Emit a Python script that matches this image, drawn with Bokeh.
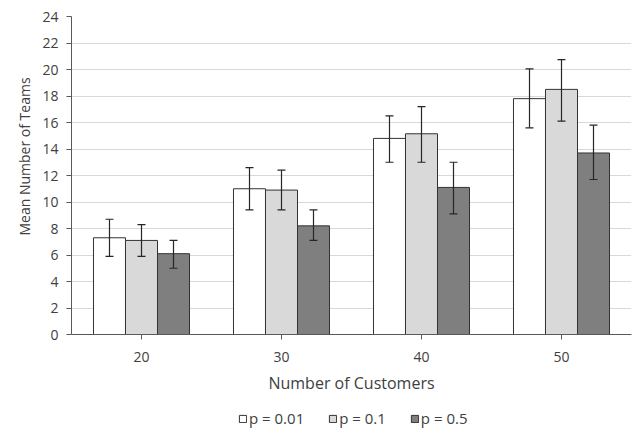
from bokeh.plotting import figure
from bokeh.layouts import column
from bokeh.models import (ColumnDataSource, FactorRange, Range1d, FixedTicker, Whisker,
                          TeeHead, Legend, LegendItem, Title)
from bokeh.transform import dodge
from bokeh.embed import file_html
from bokeh.resources import INLINE

customers = ["20", "30", "40", "50"]
series_names = ["p = 0.01", "p = 0.1", "p = 0.5"]
mean_p001 = [7.3, 11.0, 14.8, 17.8]
mean_p01 = [7.1, 10.9, 15.15, 18.5]
mean_p05 = [6.1, 8.2, 11.1, 13.7]
lo_p001 = [5.9, 9.4, 13.0, 15.6]
hi_p001 = [8.7, 12.6, 16.5, 20.05]
lo_p01 = [5.9, 9.4, 13.0, 16.1]
hi_p01 = [8.3, 12.4, 17.2, 20.75]
lo_p05 = [5.0, 7.1, 9.1, 11.7]
hi_p05 = [7.1, 9.4, 13.0, 15.8]
y_ticks = list(range(0, 25, 2))

FONT = "Open Sans"
TXT = "#404040"
EDGE = "#333333"

p = figure(x_range=FactorRange(factors=customers, range_padding=0),
           y_range=Range1d(0, 24), width=633, height=404,
           output_backend="svg", toolbar_location=None,
           min_border_left=71, min_border_right=2, min_border_top=16,
           min_border_bottom=70)
p.outline_line_color = None
p.background_fill_color = "white"

fills = ["#ffffff", "#d9d9d9", "#7f7f7f"]
offsets = [-0.2286, 0.0, 0.2286]
means = [mean_p001, mean_p01, mean_p05]
los = [lo_p001, lo_p01, lo_p05]
his = [hi_p001, hi_p01, hi_p05]

for name, fill, off, m, lo, hi in zip(series_names, fills, offsets, means, los, his):
    src = ColumnDataSource(dict(cat=customers, v=m, lo=lo, hi=hi))
    p.vbar(x=dodge("cat", off, range=p.x_range), top="v", width=0.2286,
           source=src, fill_color=fill, line_color=EDGE, line_width=1)
    w = Whisker(base=dodge("cat", off, range=p.x_range), lower="lo", upper="hi",
                source=src, line_color="#262626", line_width=1.2, level="overlay",
                upper_head=TeeHead(size=8, line_color="#262626", line_width=1.2),
                lower_head=TeeHead(size=8, line_color="#262626", line_width=1.2))
    p.add_layout(w)

p.xgrid.grid_line_color = None
p.ygrid.grid_line_color = "#d9d9d9"
p.ygrid.grid_line_width = 1

p.yaxis.ticker = FixedTicker(ticks=y_ticks)
p.yaxis.minor_tick_line_color = None
p.yaxis.major_tick_in = 0
p.yaxis.major_tick_out = 5
p.yaxis.major_label_standoff = 8

ytitle = Title(text="Mean Number of Teams", align="left", offset=99,
               text_font=FONT, text_font_size="14px", text_font_style="normal",
               text_color=TXT, standoff=11)
p.add_layout(ytitle, "left")

p.xaxis.major_tick_in = 0
p.xaxis.major_tick_out = 5
p.xaxis.major_label_standoff = 12
p.xaxis.axis_label = "Number of Customers"
p.xaxis.axis_label_standoff = 7

for ax in (p.xaxis, p.yaxis):
    ax.axis_line_color = "#595959"
    ax.major_tick_line_color = "#595959"
    ax.major_label_text_font = FONT
    ax.major_label_text_font_size = "14px"
    ax.major_label_text_color = TXT
    ax.axis_label_text_font = FONT
    ax.axis_label_text_font_size = "16px"
    ax.axis_label_text_font_style = "normal"
    ax.axis_label_text_color = TXT

# legend strip below the chart (swatch renderers sit outside the strip's visible range)
lg = figure(width=633, height=30, x_range=Range1d(0, 1), y_range=Range1d(0, 1),
            output_backend="svg", toolbar_location=None,
            x_axis_location=None, y_axis_location=None,
            min_border_left=71, min_border_right=2, min_border_top=0,
            min_border_bottom=0)
lg.grid.visible = False
lg.outline_line_color = None
items = []
for name, fill in zip(series_names, fills):
    r = lg.vbar(x=[-5], top=[-5], bottom=[-6], width=0.1, fill_color=fill,
                line_color=EDGE, line_width=1)
    items.append(LegendItem(label=name, renderers=[r]))
legend = Legend(items=items, orientation="horizontal", location=(167, 6),
                border_line_color=None, background_fill_alpha=0,
                glyph_width=9, glyph_height=9, label_standoff=2, spacing=24,
                label_height=16, label_text_font=FONT, label_text_font_size="15px",
                label_text_color=TXT, padding=0, margin=0)
lg.add_layout(legend, "center")

layout = column(p, lg, spacing=0)
open("out.html", "w").write(file_html(layout, INLINE))
